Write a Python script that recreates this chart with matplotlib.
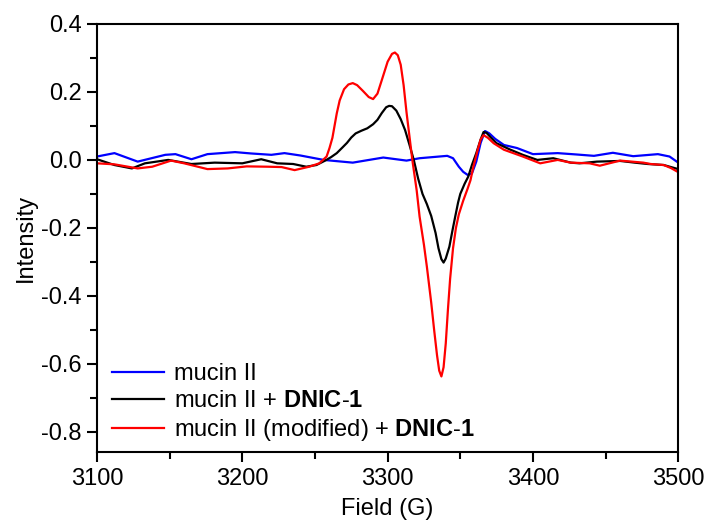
import matplotlib
matplotlib.use('Agg')
import matplotlib.pyplot as plt
from matplotlib.ticker import MultipleLocator, FormatStrFormatter

plt.rcParams['font.family'] = ['Liberation Sans', 'DejaVu Sans']
plt.rcParams['mathtext.fontset'] = 'custom'
plt.rcParams['mathtext.rm'] = 'Liberation Sans'
plt.rcParams['mathtext.bf'] = 'Liberation Sans:bold'

# mucin II
field_blue = [3100, 3112, 3128, 3147, 3154, 3165, 3176, 3195, 3206, 3220, 3229, 3240,
              3256, 3276, 3297, 3313, 3322, 3341, 3345, 3349, 3352, 3355, 3358, 3361, 3364, 3367,
              3370, 3374, 3380, 3389, 3400, 3417, 3430, 3442, 3455, 3469, 3486, 3494, 3500]
int_blue = [0.010, 0.020, -0.005, 0.015, 0.017, 0.002, 0.017, 0.023, 0.019, 0.015, 0.020, 0.013,
            0.000, -0.008, 0.007, -0.002, 0.005, 0.012, 0.005, -0.020, -0.035, -0.044, -0.040, -0.005, 0.050, 0.085,
            0.078, 0.062, 0.044, 0.035, 0.017, 0.020, 0.016, 0.012, 0.021, 0.011, 0.017, 0.010, -0.008]

# mucin II + DNIC-1
field_black = [3100, 3112, 3124, 3133, 3149, 3165, 3181, 3200, 3213, 3224, 3235, 3244, 3251,
               3257, 3261, 3265, 3269, 3272, 3275, 3278, 3282, 3286, 3290, 3293, 3296, 3299, 3301,
               3303, 3306, 3309, 3312, 3315, 3318, 3321, 3324, 3327, 3330, 3333, 3335, 3337,
               3338.5, 3340, 3342.5, 3344.5, 3346.5, 3348.5, 3350, 3353, 3355.5, 3358, 3361,
               3364, 3366, 3368, 3371, 3375, 3384, 3393, 3403, 3414, 3426, 3432, 3444, 3460,
               3470, 3479, 3490, 3500]
int_black = [0.002, -0.015, -0.025, -0.010, 0.000, -0.012, -0.008, -0.010, 0.002, -0.010, -0.012, -0.020, -0.015,
             -0.002, 0.008, 0.020, 0.037, 0.050, 0.066, 0.078, 0.086, 0.093, 0.105, 0.118, 0.138, 0.155, 0.159,
             0.158, 0.145, 0.120, 0.088, 0.045, 0.000, -0.055, -0.100, -0.130, -0.165, -0.215, -0.260, -0.292,
             -0.302, -0.290, -0.255, -0.210, -0.167, -0.125, -0.100, -0.070, -0.049, -0.015, 0.020,
             0.060, 0.082, 0.080, 0.066, 0.049, 0.031, 0.015, 0.000, 0.005, -0.008, -0.010, -0.005, -0.003,
             -0.008, -0.012, -0.015, -0.027]

# mucin II (modified) + DNIC-1
field_red = [3100, 3112, 3128, 3138, 3151, 3160, 3176, 3190, 3203, 3218, 3227, 3236, 3246,
             3253, 3258, 3260, 3262, 3265, 3267, 3270, 3273, 3276, 3279, 3283, 3287, 3290, 3293,
             3296, 3300, 3303, 3305, 3307, 3309, 3311, 3313, 3315, 3317, 3320, 3322, 3325, 3327,
             3330, 3332, 3334, 3335.5, 3337, 3338.5, 3340, 3341.5, 3343, 3345, 3347, 3349, 3352,
             3355, 3357, 3359, 3362, 3364, 3366, 3369, 3373, 3380, 3393, 3405, 3417, 3426, 3439,
             3446, 3460, 3476, 3481, 3490, 3495, 3500]
int_red = [-0.010, -0.013, -0.025, -0.020, -0.002, -0.010, -0.027, -0.025, -0.019, -0.020, -0.021, -0.030, -0.020,
           -0.010, 0.010, 0.035, 0.065, 0.137, 0.175, 0.208, 0.222, 0.226, 0.220, 0.203, 0.185, 0.179, 0.195,
           0.235, 0.289, 0.312, 0.316, 0.308, 0.280, 0.220, 0.140, 0.070, 0.000, -0.090, -0.167, -0.250, -0.314,
           -0.420, -0.500, -0.575, -0.620, -0.637, -0.610, -0.540, -0.440, -0.350, -0.260, -0.200, -0.160, -0.120,
           -0.085, -0.060, -0.020, 0.030, 0.060, 0.073, 0.065, 0.049, 0.030, 0.010, -0.010, 0.000, -0.008, -0.010,
           -0.017, -0.002, -0.008, -0.012, -0.015, -0.024, -0.036]

labels = ['mucin II',
          r'mucin II + $\mathbf{DNIC\text{-}1}$',
          r'mucin II (modified) + $\mathbf{DNIC\text{-}1}$']

fig = plt.figure(figsize=(7.08, 5.21), dpi=100)
ax = fig.add_axes([0.137, 0.132, 0.821, 0.822])

ax.plot(field_blue, int_blue, color='#0000ff', lw=1.6, label=labels[0])
ax.plot(field_black, int_black, color='black', lw=1.6, label=labels[1])
ax.plot(field_red, int_red, color='#ff0000', lw=1.6, label=labels[2])

ax.set_xlim(3100, 3500)
ax.set_ylim(-0.86, 0.4)
ax.xaxis.set_major_locator(MultipleLocator(100))
ax.xaxis.set_minor_locator(MultipleLocator(50))
ax.yaxis.set_major_locator(MultipleLocator(0.2))
ax.yaxis.set_minor_locator(MultipleLocator(0.1))
ax.yaxis.set_major_formatter(FormatStrFormatter('%.1f'))

ax.tick_params(which='both', direction='out', labelsize=17, width=1.5, top=False, right=False)
ax.tick_params(which='major', length=7, pad=4)
ax.tick_params(which='minor', length=5)
for s in ax.spines.values():
    s.set_linewidth(1.5)

ax.set_xlabel('Field (G)', fontsize=17, labelpad=6)
ax.set_ylabel('Intensity', fontsize=17, labelpad=3)

ax.legend(loc='lower left', frameon=False, fontsize=17, handlelength=2.2,
          handletextpad=0.42, labelspacing=0.21, borderaxespad=0.0,
          bbox_to_anchor=(0.01, 0.0))

fig.savefig('out.png', dpi=100)
